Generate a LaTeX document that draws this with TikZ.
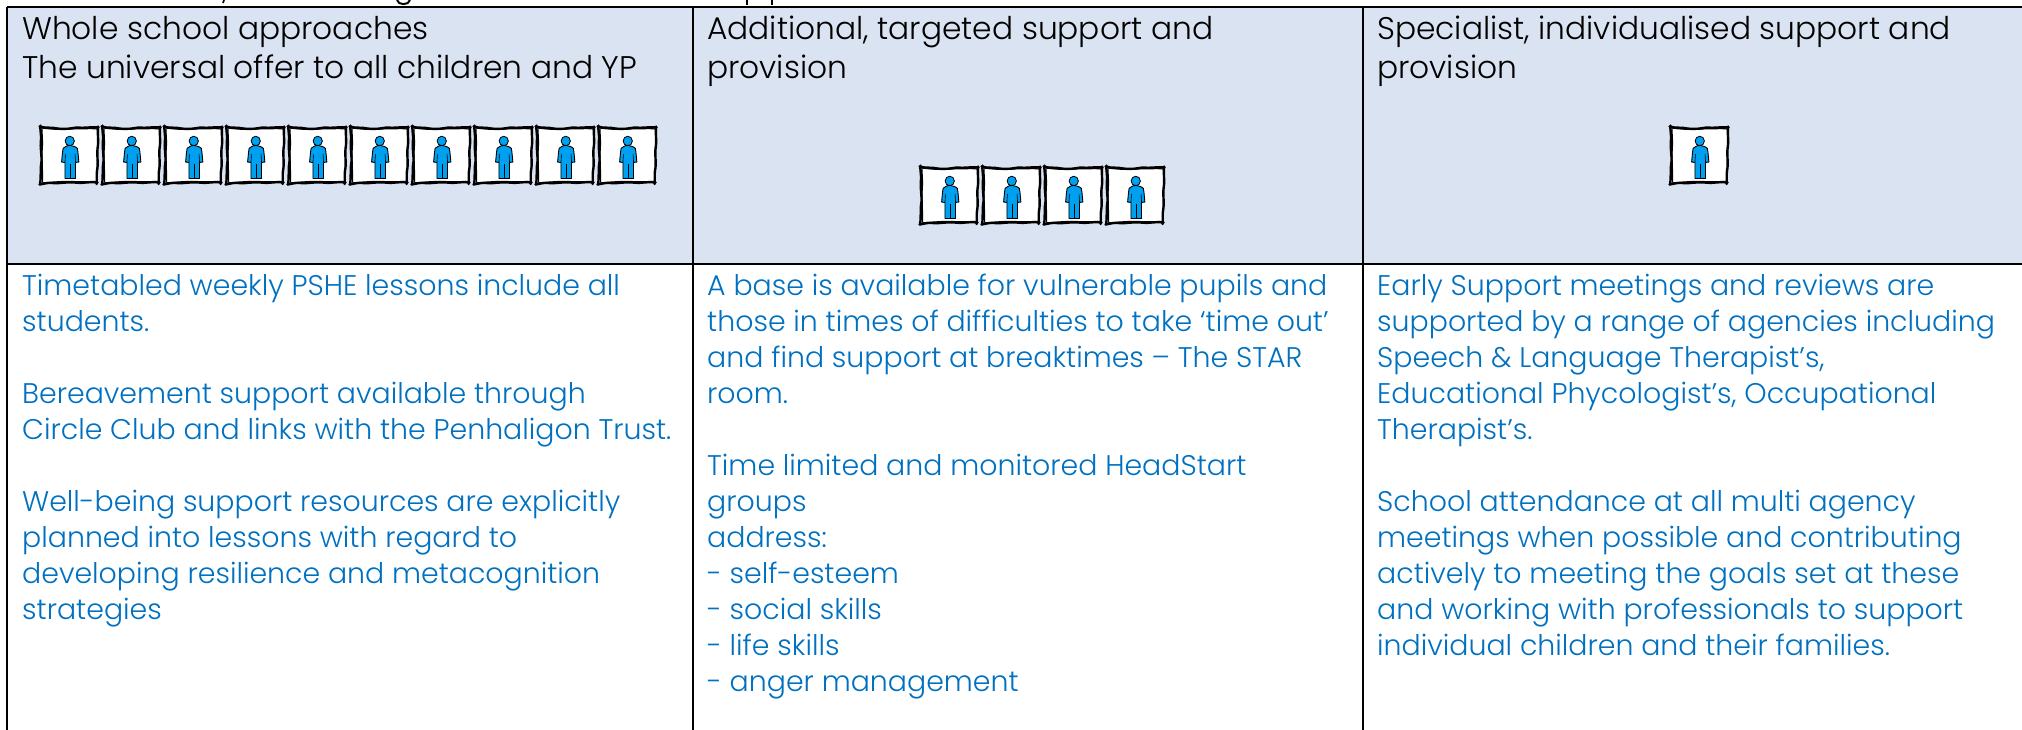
\documentclass[tikz,border=0pt]{standalone}
\usepackage{fontspec}
\setmainfont{Poppins}[UprightFont=* Light]
\definecolor{hdr}{HTML}{DAE3F1}
\definecolor{bodyblue}{HTML}{0070C0}
\definecolor{figblue}{HTML}{00A0F0}
\tikzset{
  x=1pt,y=-1pt,
  rule/.style={line width=2pt,black},
  headtext/.style={anchor=north west,inner sep=0pt,align=left,text=black,font=\fontsize{31.3}{39}\selectfont},
  celltext/.style={anchor=north west,inner sep=0pt,align=left,text=bodyblue,font=\fontsize{28.4}{36}\selectfont},
  person/.pic={
    \path[fill=white] (1,2) rectangle (60,57);
    \draw[line width=2.4pt,line cap=round,line join=round]
      (-0.5,0.5) .. controls (6,2.5) and (12,1) .. (18,2.5) .. controls (26,3.5) and (32,2.5) .. (38,1.5) .. controls (46,2.5) and (54,0.5) .. (61,1.5);
    \draw[line width=1.2pt,line cap=round] (2,2) .. controls (14,3.5) and (24,3.8) .. (36,2.8) .. controls (44,3.2) and (52,2) .. (60,3);
    \draw[line width=2.4pt,line cap=round,line join=round]
      (60.5,0.5) .. controls (59.5,8) and (61.5,14) .. (60,22) .. controls (59,30) and (61,36) .. (59.5,44) .. controls (58.5,49) and (59.5,53) .. (59,58);
    \draw[line width=2.4pt,line cap=round,line join=round]
      (60,56.5) .. controls (52,55) and (44,58) .. (36,56.5) .. controls (28,55.5) and (20,58) .. (12,57) .. controls (8,56.5) and (3,58) .. (-0.5,58.5);
    \draw[line width=1.3pt,line cap=round] (58,55.5) .. controls (44,56.5) and (30,54.8) .. (16,56) .. controls (10,56.2) and (6,56.8) .. (2,57);
    \draw[line width=2.4pt,line cap=round,line join=round]
      (0,58.5) .. controls (1.5,50) and (0,44) .. (1.5,36) .. controls (2,28) and (0,22) .. (1,14) .. controls (1.5,9) and (0,4) .. (0.5,-0.5);
    \draw[line width=1.2pt,line cap=round] (2.5,56) .. controls (3,44) and (1.5,32) .. (2.5,20) .. controls (2.8,12) and (2,8) .. (2,3);
    \draw[fill=figblue,line width=0.8pt] (31,15) circle[radius=4.8];
    \draw[fill=figblue,line width=0.9pt,line join=round]
      (27,20.5) .. controls (24,21) and (23.5,23) .. (23.5,26) -- (22.5,36) -- (26,36.5) -- (26,52.5) -- (37,52.5) -- (37,36.5) -- (40.5,36) -- (39.5,26) .. controls (39.5,23) and (39,21) .. (36,20.5) .. controls (33,19) and (29,19) .. (27,20.5) -- cycle;
    \draw[line width=0.9pt] (31.5,38) -- (31.5,52.5);
    \draw[line width=0.6pt] (26.5,28) -- (26,36) (36.5,28) -- (37,36);
  }
}
\begin{document}
\begin{tikzpicture}
\useasboundingbox (0,0) rectangle (2022,730);
\path[fill=hdr] (6.5,7) rectangle (2022,264.5);
% clipped descenders of the line above the table
\draw[line width=1.6pt] (224,0) -- (223,3);
\draw[line width=2pt] (397,0) .. controls (398,5.5) and (409,5.5) .. (410,0);
\draw[line width=2pt] (747,0) -- (747,5) (772,0) -- (772,5);
% grid
\coordinate (tl) at (6.5,7); \coordinate (tr) at (2022,7);
\coordinate (ml) at (6.5,264.5); \coordinate (mr) at (2022,264.5);
\coordinate (bl) at (6.5,730);
\coordinate (c1) at (692.5,7); \coordinate (c1b) at (692.5,730);
\coordinate (c2) at (1363,7); \coordinate (c2b) at (1363,730);
\draw[rule] (tl) -- (tr);
\draw[rule] (ml) -- (mr);
\draw[rule] (tl) -- (bl);
\draw[rule] (c1) -- (c1b);
\draw[rule] (c2) -- (c2b);
% headers
\node[headtext] (h1) at (22,9.5) {\rule{0pt}{30pt}Whole school approaches\\The universal offer to all children and YP};
\node[headtext] (h2) at (707,9.5) {\rule{0pt}{30pt}Additional, targeted support and\\provision};
\node[headtext] (h3) at (1377,9.5) {\rule{0pt}{30pt}Specialist, individualised support and\\provision};
% figures
\foreach \i in {0,...,9} \pic[xscale=0.96] at ({40+62*\i},126) {person};
\foreach \i in {0,...,3} \pic[xscale=0.96] at ({920+62*\i},166) {person};
\pic[xscale=0.96] at (1670,126) {person};
% body
\node[celltext] (b1) at (22,265) {\rule{0pt}{30pt}Timetabled weekly PSHE lessons include all\\students.\\\mbox{}\\Bereavement support available through\\Circle Club and links with the Penhaligon Trust.\\\mbox{}\\Well-being support resources are explicitly\\planned into lessons with regard to\\developing resilience and metacognition\\strategies};
\node[celltext] (b2) at (707,265) {\rule{0pt}{30pt}A base is available for vulnerable pupils and\\those in times of difficulties to take ‘time out’\\and find support at breaktimes – The STAR\\room.\\\mbox{}\\Time limited and monitored HeadStart\\groups\\address:\\- self-esteem\\- social skills\\- life skills\\- anger management};
\node[celltext] (b3) at (1377,265) {\rule{0pt}{30pt}Early Support meetings and reviews are\\supported by a range of agencies including\\Speech \& Language Therapist’s,\\Educational Phycologist’s, Occupational\\Therapist’s.\\\mbox{}\\School attendance at all multi agency\\meetings when possible and contributing\\actively to meeting the goals set at these\\and working with professionals to support\\individual children and their families.};
\end{tikzpicture}
\end{document}
